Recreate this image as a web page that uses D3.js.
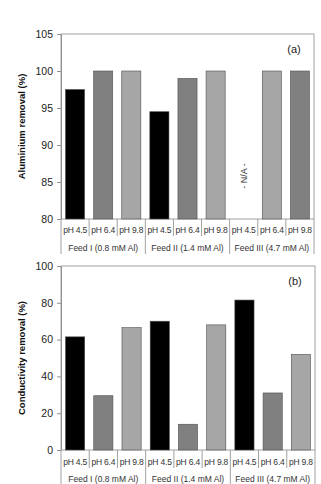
<!DOCTYPE html>
<html><head><meta charset="utf-8">
<script src="https://cdn.jsdelivr.net/npm/d3@7"></script>
<style>
html,body{margin:0;padding:0;background:#fff;}
svg{display:block;font-family:"Liberation Sans",Arial,sans-serif;}
</style></head>
<body>
<svg id="c" width="321" height="484"></svg>
<script>
const groups = ["Feed I (0.8 mM Al)", "Feed II (1.4 mM Al)", "Feed III (4.7 mM Al)"];
const phLabels = ["pH 4.5", "pH 6.4", "pH 9.8"];
const alRemoval = [97.5, 100, 100, 94.5, 99, 100, null, 100, 100];
const condRemoval = [61.5, 29.5, 66.5, 70, 14, 68, 81.5, 31, 52];
const alShade = ["k", "d", "l", "k", "d", "l", "k", "l", "d"];
const condShade = ["k", "d", "l", "k", "d", "l", "k", "d", "l"];
const alTicks = [80, 85, 90, 95, 100, 105];
const condTicks = [0, 20, 40, 60, 80, 100];

const shadeColor = {k: "#000000", d: "#808080", l: "#a6a6a6"};
const svg = d3.select("#c");

const slots = [];
groups.forEach((g, gi) => phLabels.forEach((p, pi) => slots.push({g: gi, p: pi, label: p})));

function panel(opt) {
  const {top, bottom, left, right, domain, ticks, values, shades, title, tag, row1, row2, axisBottom} = opt;
  const g = svg.append("g");
  const x = d3.scaleBand().domain(d3.range(slots.length)).range([left, right]).padding(0);
  const y = d3.scaleLinear().domain(domain).range([bottom, top]);
  // frame
  g.append("rect").attr("x", left).attr("y", top).attr("width", right - left).attr("height", bottom - top)
    .attr("fill", "none").attr("stroke", "#a0a0a0").attr("stroke-width", 1);
  // bars
  const bw = x.bandwidth() * 0.68;
  g.selectAll("rect.bar").data(values.map((v, i) => ({v, i})).filter(d => d.v !== null))
    .enter().append("rect").attr("class", "bar")
    .attr("x", d => x(d.i) + (x.bandwidth() - bw) / 2)
    .attr("width", bw)
    .attr("y", d => y(d.v))
    .attr("height", d => y(domain[0]) - y(d.v))
    .attr("fill", d => shadeColor[shades[d.i]])
    .attr("stroke", "#505050").attr("stroke-width", 0.6);
  // y axis
  const ax = g.append("g").attr("transform", `translate(${left},0)`)
    .call(d3.axisLeft(y).tickValues(ticks).tickSize(4).tickPadding(4));
  ax.select(".domain").attr("stroke", "#909090");
  ax.selectAll(".tick line").attr("stroke", "#909090");
  ax.selectAll(".tick text").attr("font-size", "10.5px").attr("fill", "#222")
    .attr("font-family", "Liberation Sans, Arial, sans-serif");
  // title
  g.append("text").attr("transform", `translate(25,${(top + bottom) / 2}) rotate(-90)`)
    .attr("text-anchor", "middle").attr("font-size", "9.5px").attr("font-weight", "bold")
    .attr("fill", "#111").text(title);
  // tag
  g.append("text").attr("x", right - 20).attr("y", top + 19).attr("text-anchor", "middle")
    .attr("font-size", "11px").attr("fill", "#222").text(tag);
  // category rows
  const lines = g.append("g").attr("stroke", "#a0a0a0").attr("stroke-width", 1);
  d3.range(slots.length + 1).forEach(i => {
    const xx = i < slots.length ? x(i) : right;
    const isGroup = i % 3 === 0;
    lines.append("line").attr("x1", xx).attr("x2", xx).attr("y1", bottom)
      .attr("y2", isGroup ? axisBottom : row1 + 6);
  });
  g.selectAll("text.ph").data(slots).enter().append("text").attr("class", "ph")
    .attr("x", (d, i) => x(i) + x.bandwidth() / 2).attr("y", row1 + 3)
    .attr("text-anchor", "middle").attr("font-size", "8.5px").attr("letter-spacing", "-0.2px")
    .attr("fill", "#333").text(d => d.label);
  g.selectAll("text.grp").data(groups).enter().append("text").attr("class", "grp")
    .attr("x", (d, i) => x(i * 3) + x.bandwidth() * 1.5).attr("y", row2 + 3)
    .attr("text-anchor", "middle").attr("font-size", "8.5px")
    .attr("fill", "#333").text(d => d);
  return {x, y, g};
}

const a = panel({top: 34, bottom: 219, left: 61, right: 314, domain: [80, 105], ticks: alTicks,
  values: alRemoval, shades: alShade, title: "Aluminium removal (%)", tag: "(a)",
  row1: 230, row2: 248, axisBottom: 254});
// N/A label
alRemoval.forEach((v, i) => {
  if (v === null) {
    a.g.append("text").attr("transform", `translate(${a.x(i) + a.x.bandwidth() / 2 + 3},176) rotate(-90)`)
      .attr("text-anchor", "middle").attr("font-size", "9px").attr("fill", "#333").text("- N/A -");
  }
});

panel({top: 266, bottom: 450, left: 61, right: 315, domain: [0, 100], ticks: condTicks,
  values: condRemoval, shades: condShade, title: "Conductivity removal (%)", tag: "(b)",
  row1: 462, row2: 479, axisBottom: 484});
</script>
</body></html>
